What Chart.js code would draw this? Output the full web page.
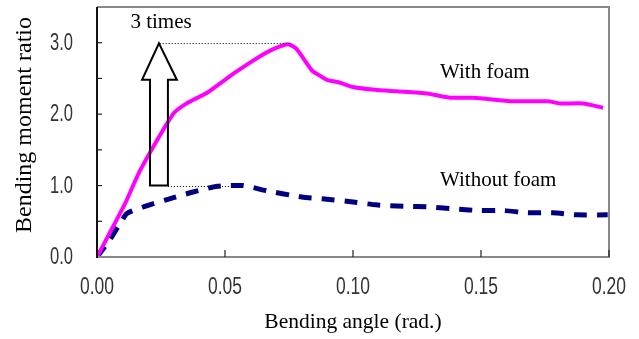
<!DOCTYPE html>
<html><head><meta charset="utf-8">
<script src="https://cdn.jsdelivr.net/npm/chart.js@4/dist/chart.umd.min.js"></script>
<style>html,body{margin:0;padding:0;background:#fff}#wrap{width:639px;height:339px}</style>
</head><body><div id="wrap"><canvas id="c" width="639" height="339"></canvas></div>
<script>
const xTicks = [0, 0.05, 0.10, 0.15, 0.20];
const yTicks = [0, 0.5, 1.0, 1.5, 2.0, 2.5, 3.0, 3.5];
const xTitle = 'Bending angle (rad.)';
const yTitle = 'Bending moment ratio';

const xFoam = [0, 0.011, 0.0168, 0.0297, 0.035, 0.043, 0.053, 0.061, 0.0676, 0.0746, 0.078, 0.084, 0.087, 0.0898, 0.095, 0.1, 0.1086, 0.117, 0.129, 0.138, 0.147, 0.1625, 0.176, 0.181, 0.19, 0.1977];
const yFoam = [0, 0.75, 1.21, 2.0, 2.15, 2.30, 2.56, 2.75, 2.89, 2.98, 2.91, 2.61, 2.54, 2.48, 2.44, 2.38, 2.34, 2.32, 2.29, 2.23, 2.23, 2.18, 2.18, 2.15, 2.15, 2.09];

const xNoFoam = [0, 0.005, 0.009, 0.0117, 0.018, 0.027, 0.0375, 0.047, 0.057, 0.066, 0.080, 0.0898, 0.1, 0.109, 0.12, 0.130, 0.1406, 0.15, 0.159, 0.168, 0.178, 0.1875, 0.1995];
const yNoFoam = [0, 0.24, 0.47, 0.61, 0.70, 0.80, 0.91, 0.99, 1.0, 0.93, 0.84, 0.81, 0.77, 0.73, 0.71, 0.70, 0.67, 0.65, 0.65, 0.62, 0.62, 0.59, 0.59];

const labels = [
  {text: "3 times", x: 0.025, y: 3.29, align: "center"},
  {text: "With foam", x: 0.134, y: 2.58, align: "left"},
  {text: "Without foam", x: 0.134, y: 1.07, align: "left"}
];
const arrowTip = {x: 0.0242, y: 2.99};
const arrowHeadY = 2.48, arrowBaseY = 1.0;
const arrowShaft = [0.0207, 0.0277], arrowHead = [0.0176, 0.0312];
const dottedTop = {x1: 0.0245, x2: 0.0754, y: 2.99};
const dottedBottom = {x1: 0.0277, x2: 0.053, y: 1.0};

const toPts = (xs, ys) => xs.map((x, i) => ({x, y: ys[i]}));
const SERIF = '"Liberation Serif", "Times New Roman", serif';
const SANS = '"Liberation Sans", Arial, sans-serif';

const decor = {
  id: 'decor',
  afterDatasetsDraw(chart) {
    const {ctx, chartArea: a, scales: {x, y}} = chart;
    ctx.save();
    // frame
    ctx.lineWidth = 2;
    ctx.strokeStyle = '#888';
    ctx.beginPath();
    ctx.moveTo(a.left, a.top); ctx.lineTo(a.right, a.top); ctx.lineTo(a.right, a.bottom); ctx.lineTo(a.left, a.bottom);
    ctx.stroke();
    ctx.strokeStyle = '#111';
    ctx.beginPath(); ctx.moveTo(a.left, a.top); ctx.lineTo(a.left, a.bottom + 1); ctx.stroke();
    // ticks inward
    ctx.lineWidth = 1.2;
    ctx.strokeStyle = '#222';
    yTicks.forEach(v => { const py = y.getPixelForValue(v); if (v > 0 && v < 3.5) { ctx.beginPath(); ctx.moveTo(a.left, py); ctx.lineTo(a.left + 5, py); ctx.stroke(); } });
    xTicks.forEach(v => { const px = x.getPixelForValue(v); if (v > 0) { ctx.beginPath(); ctx.moveTo(px, a.bottom); ctx.lineTo(px, a.bottom - 7); ctx.stroke(); } });
    // tick labels (condensed)
    ctx.fillStyle = '#333';
    ctx.font = '23px ' + SANS;
    ctx.textBaseline = 'middle';
    xTicks.forEach(v => {
      ctx.save(); ctx.translate(x.getPixelForValue(v), a.bottom + 31); ctx.scale(0.76, 1);
      ctx.textAlign = 'center'; ctx.fillText(v.toFixed(2), 0, 0); ctx.restore();
    });
    yTicks.forEach(v => {
      if (!Number.isInteger(v)) return;
      ctx.save(); ctx.translate(a.left - 24, y.getPixelForValue(v) + 1); ctx.scale(0.72, 1);
      ctx.textAlign = 'right'; ctx.fillText(v.toFixed(1), 0, 0); ctx.restore();
    });
    // axis titles
    ctx.fillStyle = '#000';
    ctx.font = '21.5px ' + SERIF;
    ctx.textAlign = 'center';
    ctx.fillText(xTitle, (a.left + a.right) / 2, 322);
    ctx.font = '24px ' + SERIF;
    ctx.save(); ctx.translate(25, 125); ctx.rotate(-Math.PI / 2); ctx.fillText(yTitle, 0, 0); ctx.restore();
    // dotted lines
    ctx.lineWidth = 1;
    ctx.strokeStyle = '#000';
    ctx.setLineDash([1, 2]);
    [dottedTop, dottedBottom].forEach(d => {
      const py = Math.round(y.getPixelForValue(d.y)) + 0.5;
      ctx.beginPath(); ctx.moveTo(x.getPixelForValue(d.x1), py); ctx.lineTo(x.getPixelForValue(d.x2), py); ctx.stroke();
    });
    ctx.setLineDash([]);
    // arrow
    ctx.lineWidth = 2;
    ctx.strokeStyle = '#000';
    ctx.beginPath();
    ctx.moveTo(x.getPixelForValue(arrowShaft[0]), y.getPixelForValue(arrowBaseY));
    ctx.lineTo(x.getPixelForValue(arrowShaft[0]), y.getPixelForValue(arrowHeadY));
    ctx.lineTo(x.getPixelForValue(arrowHead[0]), y.getPixelForValue(arrowHeadY));
    ctx.lineTo(x.getPixelForValue(arrowTip.x), y.getPixelForValue(arrowTip.y));
    ctx.lineTo(x.getPixelForValue(arrowHead[1]), y.getPixelForValue(arrowHeadY));
    ctx.lineTo(x.getPixelForValue(arrowShaft[1]), y.getPixelForValue(arrowHeadY));
    ctx.lineTo(x.getPixelForValue(arrowShaft[1]), y.getPixelForValue(arrowBaseY));
    ctx.closePath();
    ctx.stroke();
    // labels
    ctx.font = '21px ' + SERIF;
    labels.forEach(l => { ctx.textAlign = l.align; ctx.fillText(l.text, x.getPixelForValue(l.x), y.getPixelForValue(l.y)); });
    ctx.restore();
  }
};

const zeroPad = s => { s.paddingLeft = 0; s.paddingRight = 0; s.paddingTop = 0; s.paddingBottom = 0; };

new Chart(document.getElementById('c'), {
  type: 'line',
  data: {
    datasets: [
      {label: 'With foam', data: toPts(xFoam, yFoam), borderColor: '#ff00ff', borderWidth: 4, pointRadius: 0, tension: 0.2, fill: false},
      {label: 'Without foam', data: toPts(xNoFoam, yNoFoam), borderColor: '#000080', borderWidth: 5, borderDash: [13, 10], borderCapStyle: 'butt', pointRadius: 0, tension: 0.2, fill: false}
    ]
  },
  plugins: [decor],
  options: {
    responsive: false,
    animation: false,
    layout: {padding: {left: 0, right: 30, top: 7, bottom: 0}},
    plugins: {legend: {display: false}, tooltip: {enabled: false}},
    scales: {
      x: {
        type: 'linear', min: 0, max: 0.2,
        afterBuildTicks: s => { s.ticks = xTicks.map(v => ({value: v})); },
        afterFit: s => { s.height = 82; zeroPad(s); },
        grid: {display: false, drawTicks: false},
        border: {display: false},
        ticks: {display: false},
        title: {display: false, text: xTitle}
      },
      y: {
        type: 'linear', min: 0, max: 3.5,
        afterBuildTicks: s => { s.ticks = yTicks.map(v => ({value: v})); },
        afterFit: s => { s.width = 97; zeroPad(s); },
        grid: {display: false, drawTicks: false},
        border: {display: false},
        ticks: {display: false},
        title: {display: false, text: yTitle}
      }
    }
  }
});
</script></body></html>
